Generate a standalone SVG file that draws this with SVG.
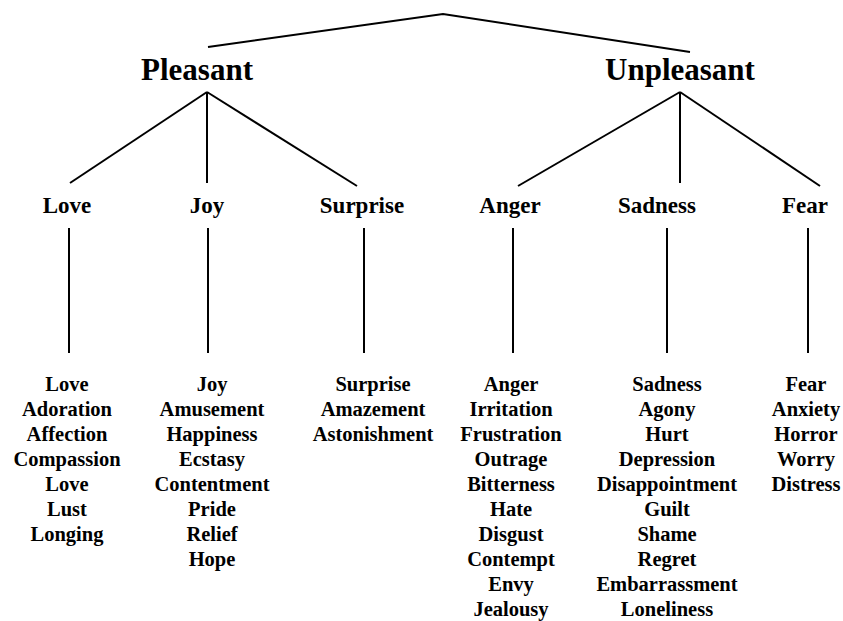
<svg xmlns="http://www.w3.org/2000/svg" width="843" height="621" viewBox="0 0 843 621">
<style>
text{font-family:"Liberation Serif","Times New Roman",serif;font-weight:bold;fill:#000;text-anchor:middle}
.t1{font-size:31px}
.t2{font-size:23px}
.t3{font-size:20.5px}
line,polyline{stroke:#000;stroke-width:2;fill:none}
</style>
<rect width="843" height="621" fill="#fff"/>
<g id="connectors">
<polyline points="208,47 443,14 690,52"/>
<line x1="207" y1="92" x2="70" y2="183"/>
<line x1="207" y1="92" x2="207" y2="183"/>
<line x1="207" y1="92" x2="357" y2="186"/>
<line x1="680" y1="92" x2="518" y2="186"/>
<line x1="680" y1="92" x2="680" y2="183"/>
<line x1="680" y1="92" x2="820" y2="186"/>
<line x1="69" y1="228" x2="69" y2="353"/>
<line x1="208" y1="228" x2="208" y2="353"/>
<line x1="364" y1="228" x2="364" y2="353"/>
<line x1="513" y1="228" x2="513" y2="353"/>
<line x1="667" y1="228" x2="667" y2="353"/>
<line x1="808" y1="228" x2="808" y2="353"/>
</g>
<g id="pleasant"><text class="t1" x="197" y="80">Pleasant</text></g>
<g id="unpleasant"><text class="t1" x="680" y="80">Unpleasant</text></g>
<g id="love"><text class="t2" x="67" y="213">Love</text></g>
<g id="joy"><text class="t2" x="207" y="213">Joy</text></g>
<g id="surprise"><text class="t2" x="362" y="213">Surprise</text></g>
<g id="anger"><text class="t2" x="510" y="213">Anger</text></g>
<g id="sadness"><text class="t2" x="657" y="213">Sadness</text></g>
<g id="fear"><text class="t2" x="805" y="213">Fear</text></g>
<g id="love-list" class="t3">
<text x="67" y="391">Love</text><text x="67" y="416">Adoration</text><text x="67" y="441">Affection</text><text x="67" y="466">Compassion</text><text x="67" y="491">Love</text><text x="67" y="516">Lust</text><text x="67" y="541">Longing</text>
</g>
<g id="joy-list" class="t3">
<text x="212" y="391">Joy</text><text x="212" y="416">Amusement</text><text x="212" y="441">Happiness</text><text x="212" y="466">Ecstasy</text><text x="212" y="491">Contentment</text><text x="212" y="516">Pride</text><text x="212" y="541">Relief</text><text x="212" y="566">Hope</text>
</g>
<g id="surprise-list" class="t3">
<text x="373" y="391">Surprise</text><text x="373" y="416">Amazement</text><text x="373" y="441">Astonishment</text>
</g>
<g id="anger-list" class="t3">
<text x="511" y="391">Anger</text><text x="511" y="416">Irritation</text><text x="511" y="441">Frustration</text><text x="511" y="466">Outrage</text><text x="511" y="491">Bitterness</text><text x="511" y="516">Hate</text><text x="511" y="541">Disgust</text><text x="511" y="566">Contempt</text><text x="511" y="591">Envy</text><text x="511" y="616">Jealousy</text>
</g>
<g id="sadness-list" class="t3">
<text x="667" y="391">Sadness</text><text x="667" y="416">Agony</text><text x="667" y="441">Hurt</text><text x="667" y="466">Depression</text><text x="667" y="491">Disappointment</text><text x="667" y="516">Guilt</text><text x="667" y="541">Shame</text><text x="667" y="566">Regret</text><text x="667" y="591">Embarrassment</text><text x="667" y="616">Loneliness</text>
</g>
<g id="fear-list" class="t3">
<text x="806" y="391">Fear</text><text x="806" y="416">Anxiety</text><text x="806" y="441">Horror</text><text x="806" y="466">Worry</text><text x="806" y="491">Distress</text>
</g>
</svg>
